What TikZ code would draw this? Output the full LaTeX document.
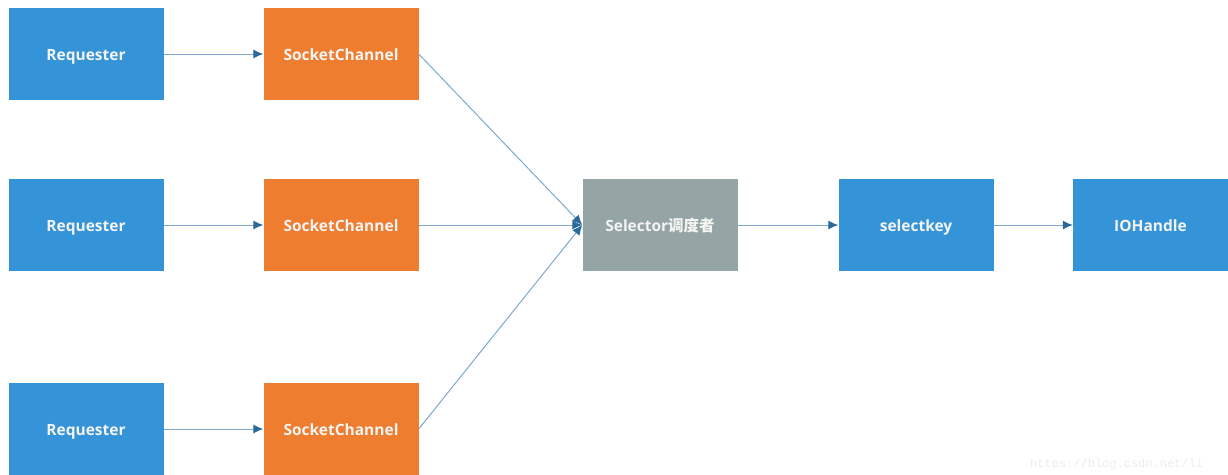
\documentclass[tikz,border=0pt]{standalone}
\usepackage{fontspec}
\setmainfont{Open Sans}
\newfontfamily\cjkfont{Noto Sans CJK SC}
\newfontfamily\wmfont{Liberation Mono}
\usetikzlibrary{arrows.meta}
\definecolor{boxblue}{HTML}{3594D8}
\definecolor{boxorange}{HTML}{EE7D30}
\definecolor{boxgray}{HTML}{95A5A5}
\definecolor{linkline}{HTML}{7FA9CE}
\definecolor{linkhead}{HTML}{2C6898}
\definecolor{labeltext}{HTML}{F4F4F2}
\tikzset{
  blockbox/.style={minimum width=155pt, minimum height=92pt, inner sep=0pt,
    text height=14pt, text depth=1pt,
    text=labeltext, font=\fontsize{15.5}{18}\selectfont\bfseries},
  reqbox/.style={blockbox, fill=boxblue},
  chanbox/.style={blockbox, fill=boxorange},
  selbox/.style={blockbox, fill=boxgray},
  link/.style={draw=linkline, line width=1pt,
    -{Latex[length=10pt,width=9pt,fill=linkhead,color=linkhead]}},
}
\begin{document}
\begin{tikzpicture}[x=1pt,y=-1pt]
\useasboundingbox[fill=white] (0,0) rectangle (1228,474);
\begin{scope}
\clip (0,0) rectangle (1228,474);
% sources
\node[reqbox] (r1) at (86,54) {Requester};
\node[reqbox] (r2) at (86,225) {Requester};
\node[reqbox] (r3) at (86,429) {Requester};
% channels
\node[chanbox] (s1) at (341,54) {SocketChannel};
\node[chanbox] (s2) at (341,225) {SocketChannel};
\node[chanbox] (s3) at (341,429) {SocketChannel};
% dispatcher and downstream
\node[selbox] (sel) at (660,225) {Selector{\cjkfont 调度者}};
\node[reqbox] (key) at (916,225) {selectkey};
\node[reqbox] (io) at (1150.5,225) {IOHandle};
% connectors
\draw[link] (r1) -- (s1);
\draw[link] (r2) -- (s2);
\draw[link] (r3) -- (s3);
\draw[link] (s1.east) -- (sel.west);
\draw[link] (s3.east) -- (sel.west);
\draw[link] (s2) -- (sel);
\draw[link] (sel) -- (key);
\draw[link] (key) -- (io);
% site mark
\node[anchor=base west, inner sep=0pt, text=black!7, font=\wmfont\fontsize{12}{14}\selectfont] (wm) at (1030,467) {https://blog.csdn.net/li};
\end{scope}
\end{tikzpicture}
\end{document}
